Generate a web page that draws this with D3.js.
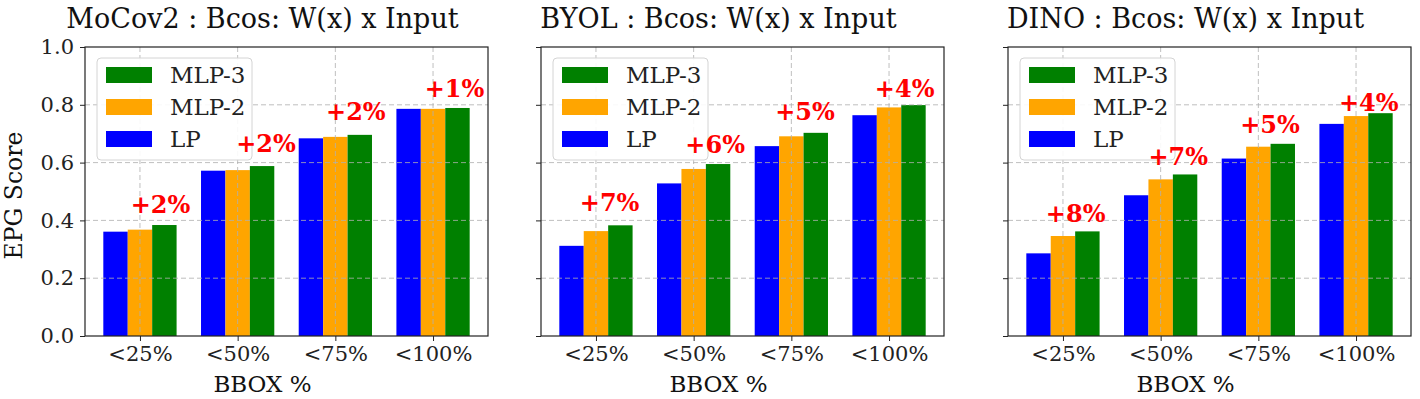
<!DOCTYPE html>
<html>
<head>
<meta charset="utf-8">
<script src="https://cdn.jsdelivr.net/npm/d3@7"></script>
<style>
  body { margin: 0; background: #fff; }
  svg { display: block; font-family: "DejaVu Serif", serif; }
</style>
</head>
<body>
<svg id="chart" width="1420" height="399"></svg>
<script>
const categories = ["<25%", "<50%", "<75%", "<100%"];
const seriesNames = ["LP", "MLP-2", "MLP-3"];
const seriesColors = ["#0000ff", "#ffa500", "#008000"];
const yTicks = [0.0, 0.2, 0.4, 0.6, 0.8, 1.0];

const panelTitles = [
  "MoCov2 : Bcos: W(x) x Input",
  "BYOL : Bcos: W(x) x Input",
  "DINO : Bcos: W(x) x Input"
];

// bar heights, one array per model
const mocoLP = [0.361, 0.572, 0.684, 0.786];
const mocoMLP2 = [0.368, 0.574, 0.689, 0.786];
const mocoMLP3 = [0.384, 0.588, 0.696, 0.789];
const byolLP = [0.312, 0.528, 0.657, 0.764];
const byolMLP2 = [0.363, 0.578, 0.691, 0.791];
const byolMLP3 = [0.383, 0.595, 0.703, 0.799];
const dinoLP = [0.286, 0.487, 0.614, 0.734];
const dinoMLP2 = [0.346, 0.542, 0.655, 0.761];
const dinoMLP3 = [0.362, 0.559, 0.665, 0.771];

// red gain labels: text, x offset from the category (in category units), y level (data units)
const mocoGain = ["+2%", "+2%", "+2%", "+1%"];
const byolGain = ["+7%", "+6%", "+5%", "+4%"];
const dinoGain = ["+8%", "+7%", "+5%", "+4%"];
const mocoGainX = [0.21, 0.29, 0.21, 0.22];
const byolGainX = [0.14, 0.22, 0.14, 0.16];
const dinoGainX = [0.13, 0.18, 0.12, 0.13];
const mocoGainY = [0.426, 0.637, 0.747, 0.826];
const byolGainY = [0.433, 0.633, 0.747, 0.827];
const dinoGainY = [0.394, 0.592, 0.702, 0.778];

const panels = [
  { title: panelTitles[0], series: [mocoLP, mocoMLP2, mocoMLP3], gain: mocoGain, gx: mocoGainX, gy: mocoGainY },
  { title: panelTitles[1], series: [byolLP, byolMLP2, byolMLP3], gain: byolGain, gx: byolGainX, gy: byolGainY },
  { title: panelTitles[2], series: [dinoLP, dinoMLP2, dinoMLP3], gain: dinoGain, gx: dinoGainX, gy: dinoGainY }
];

const svg = d3.select("#chart");
const panelLefts = [85, 541, 1008];
const panelWidth = 403;
const plotTop = 47;
const plotHeight = 289;
const barWidth = 0.25;
const gridColor = "#b0b0b0";
const spineColor = "#222";

const yScale = d3.scaleLinear().domain([0, 1]).range([plotTop + plotHeight, plotTop]);

panels.forEach((panel, p) => {
  const left = panelLefts[p];
  const xScale = d3
    .scaleLinear()
    .domain([-0.5625, categories.length - 1 + 0.5625])
    .range([left, left + panelWidth]);
  const unit = xScale(1) - xScale(0);
  const g = svg.append("g").attr("class", `panel-${p}`);

  // bars
  panel.series.forEach((values, s) => {
    g.selectAll(`.bar-${s}`)
      .data(values)
      .join("rect")
      .attr("class", `bar-${s}`)
      .attr("x", (d, i) => xScale(i + (s - 1) * barWidth - barWidth / 2))
      .attr("width", barWidth * unit)
      .attr("y", (d) => yScale(d))
      .attr("height", (d) => yScale(0) - yScale(d))
      .attr("fill", seriesColors[s]);
  });

  // grid drawn over the bars, like the source
  const grid = g.append("g").attr("class", "grid");
  grid.selectAll(".hgrid")
    .data(yTicks.slice(1, -1))
    .join("line")
    .attr("x1", left)
    .attr("x2", left + panelWidth)
    .attr("y1", (d) => yScale(d))
    .attr("y2", (d) => yScale(d))
    .attr("stroke", gridColor)
    .attr("stroke-width", 1)
    .attr("stroke-dasharray", "5 3")
    .attr("opacity", 0.8);
  grid.selectAll(".vgrid")
    .data(categories)
    .join("line")
    .attr("x1", (d, i) => xScale(i))
    .attr("x2", (d, i) => xScale(i))
    .attr("y1", plotTop)
    .attr("y2", plotTop + plotHeight)
    .attr("stroke", gridColor)
    .attr("stroke-width", 1)
    .attr("stroke-dasharray", "5 3")
    .attr("opacity", 0.8);

  // axes
  const xAxis = d3
    .axisBottom(xScale)
    .tickValues(d3.range(categories.length))
    .tickFormat((d) => categories[d])
    .tickSize(5)
    .tickPadding(5);
  const gx = g.append("g").attr("transform", `translate(0, ${plotTop + plotHeight})`).call(xAxis);
  gx.select(".domain").remove();
  gx.selectAll("line").attr("stroke", spineColor);
  gx.selectAll("text")
    .style("font-family", "DejaVu Serif")
    .style("font-size", "21px")
    .style("fill", "#222");

  const yAxis = d3
    .axisLeft(yScale)
    .tickValues(yTicks)
    .tickFormat(p === 0 ? d3.format(".1f") : () => "")
    .tickSize(5)
    .tickPadding(6);
  const gy = g.append("g").attr("transform", `translate(${left}, 0)`).call(yAxis);
  gy.select(".domain").remove();
  gy.selectAll("line").attr("stroke", spineColor);
  gy.selectAll("text")
    .style("font-family", "DejaVu Serif")
    .style("font-size", "21px")
    .style("fill", "#222");

  // frame
  g.append("rect")
    .attr("x", left)
    .attr("y", plotTop)
    .attr("width", panelWidth)
    .attr("height", plotHeight)
    .attr("fill", "none")
    .attr("stroke", spineColor)
    .attr("stroke-width", 1.2);

  // legend
  const legend = g.append("g").attr("transform", `translate(${left + 12}, ${plotTop + 11})`);
  legend.append("rect")
    .attr("width", 155)
    .attr("height", 102)
    .attr("rx", 4)
    .attr("fill", "#fff")
    .attr("fill-opacity", 0.9)
    .attr("stroke", "#d4d4d4")
    .attr("stroke-width", 1);
  const order = [2, 1, 0];
  order.forEach((s, row) => {
    const cy = 17 + row * 32;
    legend.append("rect")
      .attr("x", 9)
      .attr("y", cy - 8)
      .attr("width", 46)
      .attr("height", 16)
      .attr("fill", seriesColors[s]);
    legend.append("text")
      .attr("x", 73)
      .attr("y", cy)
      .attr("dy", "0.36em")
      .style("font-size", "23px")
      .style("fill", "#222")
      .text(seriesNames[s]);
  });

  // gain labels, on top of the legend as in the source
  g.selectAll(".gain")
    .data(panel.gain)
    .join("text")
    .attr("class", "gain")
    .attr("x", (d, i) => xScale(i + panel.gx[i]))
    .attr("y", (d, i) => yScale(panel.gy[i]))
    .attr("text-anchor", "middle")
    .style("font-size", "24px")
    .style("font-weight", 700)
    .style("fill", "#ff0000")
    .text((d) => d);

  // title and x label (sit a little left of the frame centre in the source)
  const mid = left + panelWidth / 2 - 24;
  g.append("text")
    .attr("x", mid)
    .attr("y", 28)
    .attr("text-anchor", "middle")
    .style("font-size", "27px")
    .style("fill", "#111")
    .text(panel.title);
  g.append("text")
    .attr("x", mid)
    .attr("y", 392)
    .attr("text-anchor", "middle")
    .style("font-size", "23px")
    .style("fill", "#111")
    .text("BBOX %");
});

svg.append("text")
  .attr("transform", `translate(22, ${plotTop + plotHeight / 2 + 4}) rotate(-90)`)
  .attr("text-anchor", "middle")
  .style("font-size", "23.5px")
  .style("fill", "#111")
  .text("EPG Score");
</script>
</body>
</html>
